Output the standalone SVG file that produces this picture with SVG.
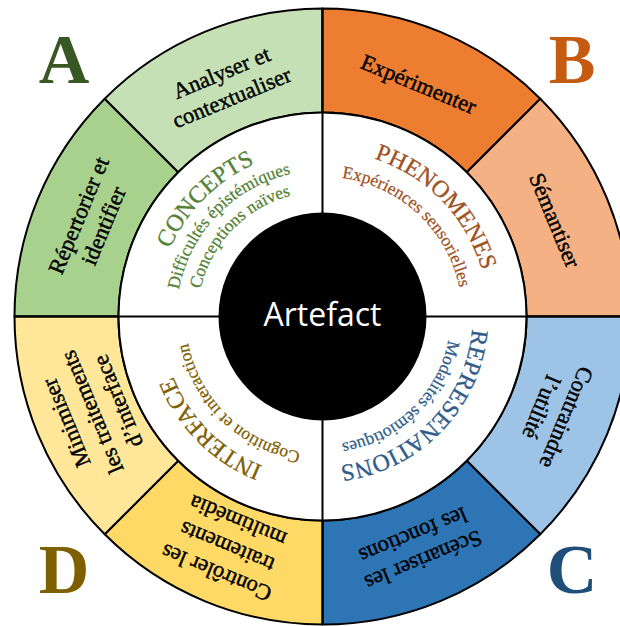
<svg xmlns="http://www.w3.org/2000/svg" width="620" height="626" viewBox="0 0 620 626">
<style>
.seg{stroke:#000;stroke-width:2;stroke-linejoin:round}
.ot{font-family:"Liberation Serif",serif;font-size:22.5px;fill:#000;stroke:#000;stroke-width:0.45px;text-anchor:middle}
.letter{font-family:"Liberation Serif",serif;font-size:70px;font-weight:bold;text-anchor:middle}
.title{font-family:"Liberation Serif",serif;font-size:24px;text-anchor:middle;stroke-width:0.3px}
.sub{font-family:"Liberation Serif",serif;font-size:17.5px;text-anchor:middle;stroke-width:0.25px}
</style>
<defs>
<path id="r167" d="M156.14,301.94 A167,167 0 0 1 488.86,301.94"/>
<path id="r146" d="M177.06,303.77 A146,146 0 0 1 467.94,303.77"/>
<path id="r125" d="M197.98,305.6 A125,125 0 0 1 447.02,305.6"/>
<path id="r166" d="M157.13,302.03 A166,166 0 0 1 487.87,302.03"/>
<path id="r140" d="M183.03,304.3 A140,140 0 0 1 461.97,304.3"/>
<path id="r150" d="M173.07,303.43 A150,150 0 0 1 471.93,303.43"/>
<path id="r128" d="M194.99,305.34 A128,128 0 0 1 450.01,305.34"/>
<path id="r161" d="M162.11,302.47 A161,161 0 0 1 482.89,302.47"/>
<path id="r137" d="M186.02,304.56 A137,137 0 0 1 458.98,304.56"/>
</defs>
<rect width="620" height="626" fill="#fff"/>

<g id="a-repertorier">
<path class="seg" fill="#A9D18E" d="M14.5,316.5 A308,308 0 0 1 104.71,98.71 L178.25,172.25 A204,204 0 0 0 118.5,316.5 Z"/>
<g transform="rotate(-67.5 322.5 316.5)"><text class="ot" x="322.5" y="60">Répertorier et</text><text class="ot" x="322.5" y="87">identifier</text></g>
</g>
<g id="a-analyser">
<path class="seg" fill="#C5E0B4" d="M104.71,98.71 A308,308 0 0 1 322.5,8.5 L322.5,112.5 A204,204 0 0 0 178.25,172.25 Z"/>
<g transform="rotate(-22.5 322.5 316.5)"><text class="ot" x="322.5" y="60">Analyser et</text><text class="ot" x="322.5" y="87">contextualiser</text></g>
</g>
<g id="b-experimenter">
<path class="seg" fill="#ED7D31" d="M322.5,8.5 A308,308 0 0 1 540.29,98.71 L466.75,172.25 A204,204 0 0 0 322.5,112.5 Z"/>
<g transform="rotate(22.5 322.5 316.5)"><text class="ot" x="322.5" y="72.5">Expérimenter</text></g>
</g>
<g id="b-semantiser">
<path class="seg" fill="#F4B183" d="M540.29,98.71 A308,308 0 0 1 630.5,316.5 L526.5,316.5 A204,204 0 0 0 466.75,172.25 Z"/>
<g transform="rotate(67.5 322.5 316.5)"><text class="ot" x="322.5" y="72.5">Sémantiser</text></g>
</g>
<g id="c-contraindre">
<path class="seg" fill="#9DC3E6" d="M630.5,316.5 A308,308 0 0 1 540.29,534.29 L466.75,460.75 A204,204 0 0 0 526.5,316.5 Z"/>
<g transform="rotate(112.5 322.5 316.5)"><text class="ot" x="322.5" y="60">Contraindre</text><text class="ot" x="322.5" y="87">l’utilité</text></g>
</g>
<g id="c-scenariser">
<path class="seg" fill="#2E75B6" d="M540.29,534.29 A308,308 0 0 1 322.5,624.5 L322.5,520.5 A204,204 0 0 0 466.75,460.75 Z"/>
<g transform="rotate(157.5 322.5 316.5)"><text class="ot" x="322.5" y="60">Scénariser les</text><text class="ot" x="322.5" y="87">les fonctions</text></g>
</g>
<g id="d-controler">
<path class="seg" fill="#FFD966" d="M322.5,624.5 A308,308 0 0 1 104.71,534.29 L178.25,460.75 A204,204 0 0 0 322.5,520.5 Z"/>
<g transform="rotate(-157.5 322.5 316.5)"><text class="ot" x="322.5" y="46.5">Contrôler les</text><text class="ot" x="322.5" y="74.5">traitements</text><text class="ot" x="322.5" y="102.5">multimédia</text></g>
</g>
<g id="d-minimiser">
<path class="seg" fill="#FFE699" d="M104.71,534.29 A308,308 0 0 1 14.5,316.5 L118.5,316.5 A204,204 0 0 0 178.25,460.75 Z"/>
<g transform="rotate(-112.5 322.5 316.5)"><text class="ot" x="322.5" y="46.5">Minimiser</text><text class="ot" x="322.5" y="74.5">les traitements</text><text class="ot" x="322.5" y="102.5">d’interface</text></g>
</g>

<g id="inner-ring">
<circle cx="322.5" cy="316.5" r="204" fill="#fff" stroke="#000" stroke-width="2"/>
</g>
<g id="connectors" stroke="#000" stroke-width="2">
<line x1="14.5" y1="316.5" x2="630.5" y2="316.5"/>
<line x1="322.5" y1="8.5" x2="322.5" y2="624.5"/>
</g>

<g id="concepts" fill="#548235" stroke="#548235">
<text class="title" transform="rotate(-45 322.5 316.5)"><textPath href="#r167" startOffset="50%">CONCEPTS</textPath></text>
<text class="sub" transform="rotate(-46 322.5 316.5)"><textPath href="#r146" startOffset="50%">Difficultés épistémiques</textPath></text>
<text class="sub" transform="rotate(-46 322.5 316.5)"><textPath href="#r125" startOffset="50%">Conceptions naïves</textPath></text>
</g>
<g id="phenomenes" fill="#A0521F" stroke="#A0521F">
<text class="title" transform="rotate(46 322.5 316.5)"><textPath href="#r166" startOffset="50%">PHENOMENES</textPath></text>
<text class="sub" font-size="18" transform="rotate(43 322.5 316.5)"><textPath href="#r140" startOffset="50%">Expériences sensorielles</textPath></text>
</g>
<g id="representations" fill="#2E5C8B" stroke="#2E5C8B">
<text class="title" font-size="23" transform="rotate(134 322.5 316.5)"><textPath href="#r150" startOffset="50%">REPRESENATIONS</textPath></text>
<text class="sub" transform="rotate(136 322.5 316.5)"><textPath href="#r128" startOffset="50%">Modalités sémiotiques</textPath></text>
</g>
<g id="interface" fill="#7F6000" stroke="#7F6000">
<text class="title" font-size="23" transform="rotate(225 322.5 316.5)"><textPath href="#r161" startOffset="50%">INTERFACE</textPath></text>
<text class="sub" transform="rotate(224 322.5 316.5)"><textPath href="#r137" startOffset="50%">Cognition et interaction</textPath></text>
</g>

<g id="artefact">
<circle cx="322.5" cy="316.5" r="104" fill="#000"/>
<text x="322.5" y="326" fill="#fff" font-family="'Open Sans',sans-serif" font-size="32" text-anchor="middle">Artefact</text>
</g>

<g id="letters">
<text class="letter" x="64" y="83" fill="#385723">A</text>
<text class="letter" x="572" y="83" fill="#C55A11">B</text>
<text class="letter" x="572" y="593" fill="#1F4E79">C</text>
<text class="letter" x="64" y="593" fill="#7F6000">D</text>
</g>
</svg>
